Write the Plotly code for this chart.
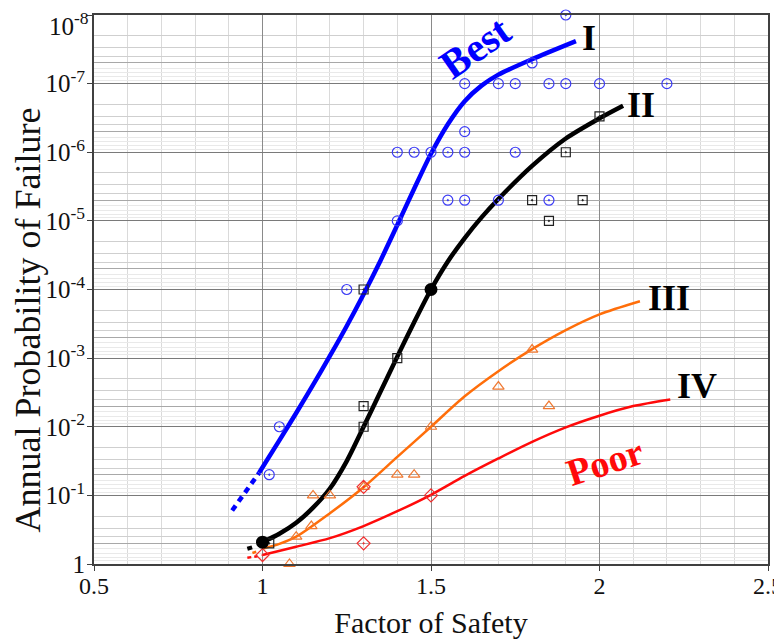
import math
import plotly.graph_objects as go

# ---------------- data ----------------
# Curve I (Best) - blue
best_dash_x = [0.91, 0.99]
best_dash_p = [0.166, 0.047]
best_x = [0.99, 1.05, 1.10, 1.15, 1.20, 1.25, 1.30, 1.35, 1.40, 1.45, 1.50, 1.55, 1.60, 1.65, 1.70, 1.80, 1.93]
best_p = [0.0468, 0.0158, 6.3e-3, 2.45e-3, 9.3e-4, 3.4e-4, 1.17e-4, 3.8e-5, 1.15e-5, 3.4e-6, 1.05e-6,
          3.9e-7, 1.8e-7, 1.07e-7, 7.4e-8, 4.4e-8, 2.4e-8]

# Curve II - black
c2_dash_x = [0.955, 0.975]
c2_dash_p = [0.60, 0.56]
c2_x = [1.00, 1.05, 1.10, 1.15, 1.20, 1.25, 1.30, 1.35, 1.40, 1.45, 1.50, 1.55, 1.60, 1.65, 1.70, 1.80, 1.90, 2.00, 2.07]
c2_p = [0.48, 0.363, 0.251, 0.151, 0.0794, 0.0316, 0.01, 3.1e-3, 9.5e-4, 3.0e-4, 1.0e-4, 3.9e-5, 1.78e-5,
        8.9e-6, 4.8e-6, 1.58e-6, 6.3e-7, 3.2e-7, 2.1e-7]

# Curve III - orange
c3_dash_x = [0.97, 0.987]
c3_dash_p = [0.69, 0.65]
c3_x = [1.00, 1.05, 1.10, 1.20, 1.30, 1.40, 1.50, 1.60, 1.70, 1.80, 1.90, 2.00, 2.12]
c3_p = [0.60, 0.51, 0.40, 0.182, 0.076, 0.0275, 0.01, 3.6e-3, 1.55e-3, 7.4e-4, 3.9e-4, 2.3e-4, 1.48e-4]

# Curve IV (Poor) - red
c4_dash_x = [0.955, 0.985]
c4_dash_p = [0.81, 0.77]
c4_x = [1.00, 1.10, 1.20, 1.30, 1.40, 1.50, 1.60, 1.70, 1.80, 1.90, 2.00, 2.10, 2.21]
c4_p = [0.74, 0.56, 0.42, 0.28, 0.17, 0.098, 0.052, 0.029, 0.0166, 0.0102, 6.9e-3, 5.0e-3, 4.0e-3]

# observed points
circ_x = [1.25, 1.40, 1.40, 1.45, 1.50, 1.55, 1.60, 1.75, 1.60, 1.60, 1.70, 1.75, 1.85, 1.90, 2.00, 2.20,
          1.80, 1.90, 1.55, 1.60, 1.70, 1.85, 1.05, 1.02]
circ_p = [1e-4, 1e-5, 1e-6, 1e-6, 1e-6, 1e-6, 1e-6, 1e-6, 5e-7, 1e-7, 1e-7, 1e-7, 1e-7, 1e-7, 1e-7, 1e-7,
          5e-8, 1e-8, 5e-6, 5e-6, 5e-6, 5e-6, 1e-2, 5e-2]

sq_x = [1.30, 1.80, 1.95, 1.85, 1.90, 2.00, 1.40, 1.30, 1.30, 1.02]
sq_p = [1e-4, 5e-6, 5e-6, 1e-5, 1e-6, 3e-7, 1e-3, 5e-3, 1e-2, 0.5]

dot_x = [1.0, 1.5]
dot_p = [0.48, 1e-4]

tri_x = [1.08, 1.10, 1.145, 1.15, 1.20, 1.30, 1.40, 1.45, 1.50, 1.70, 1.80, 1.85]
tri_p = [1.0, 0.40, 0.28, 0.1, 0.1, 0.075, 0.05, 0.05, 0.01, 2.6e-3, 7.5e-4, 5e-3]

dia_x = [1.0, 1.30, 1.30, 1.50]
dia_p = [0.74, 0.075, 0.5, 0.1]

y_tickvals = [1, 1e-1, 1e-2, 1e-3, 1e-4, 1e-5, 1e-6, 1e-7, 1e-8]
y_ticktext = ["1"] + ["10<sup>-%d</sup>" % k for k in range(1, 8)] + [""]
top_label = "10<sup>-8</sup>"   # drawn separately, nudged down so it stays inside the figure
x_tickvals = [0.5, 1, 1.5, 2, 2.5]
x_ticktext = ["0.5", "1", "1.5", "2", "2.5"]

decades = [10.0 ** -k for k in range(1, 9)]
minor_234 = [m * d for d in decades for m in (2, 3, 4)]
minor_5 = [5 * d for d in decades]
minor_6789 = [m * d for d in decades for m in (6, 7, 8, 9)]

# ---------------- styling ----------------
BLUE = "#0000ff"
ORANGE = "#ff6e0a"
RED = "#ff0a0a"
SERIF = "Liberation Serif, Times New Roman, serif"

fig = go.Figure()


def line(x, y, color, width, dash=None):
    fig.add_trace(go.Scatter(x=x, y=y, mode="lines",
                             line=dict(color=color, width=width, shape="spline", smoothing=0.8, dash=dash),
                             hoverinfo="skip", showlegend=False, cliponaxis=False))


line(best_dash_x, best_dash_p, BLUE, 4.5, "6px,5px")
line(best_x, best_p, BLUE, 4.5)
line(c2_dash_x, c2_dash_p, "black", 4, "5px,4px")
line(c2_x, c2_p, "black", 4.5)
line(c3_dash_x, c3_dash_p, ORANGE, 2.5, "4px,3px")
line(c3_x, c3_p, ORANGE, 2.5)
line(c4_dash_x, c4_dash_p, RED, 2.5, "4px,3px")
line(c4_x, c4_p, RED, 2.5)


def pts(x, y, symbol, size, color):
    fig.add_trace(go.Scatter(x=x, y=y, mode="markers", cliponaxis=False,
                             marker=dict(symbol=symbol, size=size, color=color, line=dict(width=1.2)),
                             showlegend=False))


pts(circ_x, circ_p, "circle-open-dot", 10, "#3b3bf5")
pts(sq_x, sq_p, "square-open-dot", 9, "#222222")
pts(tri_x, tri_p, "triangle-up-open", 10, "#f07830")
pts(dia_x, dia_p, "diamond-open-dot", 10, "#f03030")
fig.add_trace(go.Scatter(x=dot_x, y=dot_p, mode="markers", cliponaxis=False,
                         marker=dict(symbol="circle", size=13, color="black"), showlegend=False))


# labels on the chart
def label(text, x, p, size, color, angle=0):
    fig.add_annotation(x=x, y=math.log10(p), text="<b>%s</b>" % text, showarrow=False,
                       textangle=angle, font=dict(family=SERIF, size=size, color=color))


label("Best", 1.632, 10 ** -7.54, 41, BLUE, -35)
label("I", 1.97, 10 ** -7.67, 36, "black")
label("II", 2.122, 10 ** -6.69, 36, "black")
label("III", 2.205, 10 ** -3.88, 36, "black")
label("IV", 2.288, 10 ** -2.59, 36, "black")
label("Poor", 2.015, 10 ** -1.48, 38, RED, -18)

# top tick label (kept inside the figure)
fig.add_annotation(xref="paper", yref="paper", x=-0.004, y=0.983, xanchor="right", yanchor="middle",
                   text=top_label, showarrow=False, font=dict(family=SERIF, size=25, color="#111"))
# y axis title
fig.add_annotation(xref="paper", yref="paper", x=-0.0975, y=0.444, xanchor="center", yanchor="middle",
                   text="Annual Probability of Failure", textangle=-90, showarrow=False,
                   font=dict(family=SERIF, size=36, color="#111"))

# the page body adds an 8px offset, so the figure is 8px smaller than the window
fig.update_layout(
    width=774, height=631,
    margin=dict(l=86, r=14, t=7, b=75),
    paper_bgcolor="white", plot_bgcolor="white",
    showlegend=False,
    xaxis=dict(range=[0.5, 2.5], tickmode="array", tickvals=x_tickvals, ticktext=x_ticktext,
               automargin=False, ticklabeloverflow="allow",
               showgrid=True, gridcolor="#8a8a8a", gridwidth=1,
               minor=dict(dtick=0.1, showgrid=True, gridcolor="#dadada", gridwidth=1),
               showline=True, linecolor="#404040", linewidth=2, mirror=True,
               ticks="outside", ticklen=5, tickcolor="#404040",
               tickfont=dict(family=SERIF, size=24, color="#111"),
               title=dict(text="Factor of Safety", font=dict(family=SERIF, size=30, color="#111"), standoff=14),
               zeroline=False),
    yaxis=dict(type="log", range=[0, -8], tickmode="array", tickvals=y_tickvals, ticktext=y_ticktext,
               automargin=False, ticklabeloverflow="allow",
               showgrid=True, gridcolor="#7a7a7a", gridwidth=1,
               minor=dict(tickmode="array", tickvals=minor_234, showgrid=True, gridcolor="#cfcfcf", gridwidth=1),
               showline=True, linecolor="#404040", linewidth=2, mirror=True,
               ticks="outside", ticklen=5, tickcolor="#404040",
               tickfont=dict(family=SERIF, size=25, color="#111"),
               zeroline=False),
    yaxis2=dict(type="log", range=[0, -8], overlaying="y", tickmode="array", tickvals=minor_5,
                automargin=False,
                showticklabels=False, ticks="", showgrid=True, gridcolor="#a8a8a8", gridwidth=1,
                minor=dict(tickmode="array", tickvals=minor_6789, showgrid=True, gridcolor="#e9e9e9", gridwidth=1),
                showline=False, zeroline=False),
)
try:
    fig.layout.xaxis.ticklabelstandoff = -6
    fig.layout.yaxis.ticklabelstandoff = -3
except Exception:
    pass

# invisible trace to activate the overlay grid axis
fig.add_trace(go.Scatter(x=[None], y=[None], yaxis="y2", showlegend=False, hoverinfo="skip"))

fig.write_html("out.html")
